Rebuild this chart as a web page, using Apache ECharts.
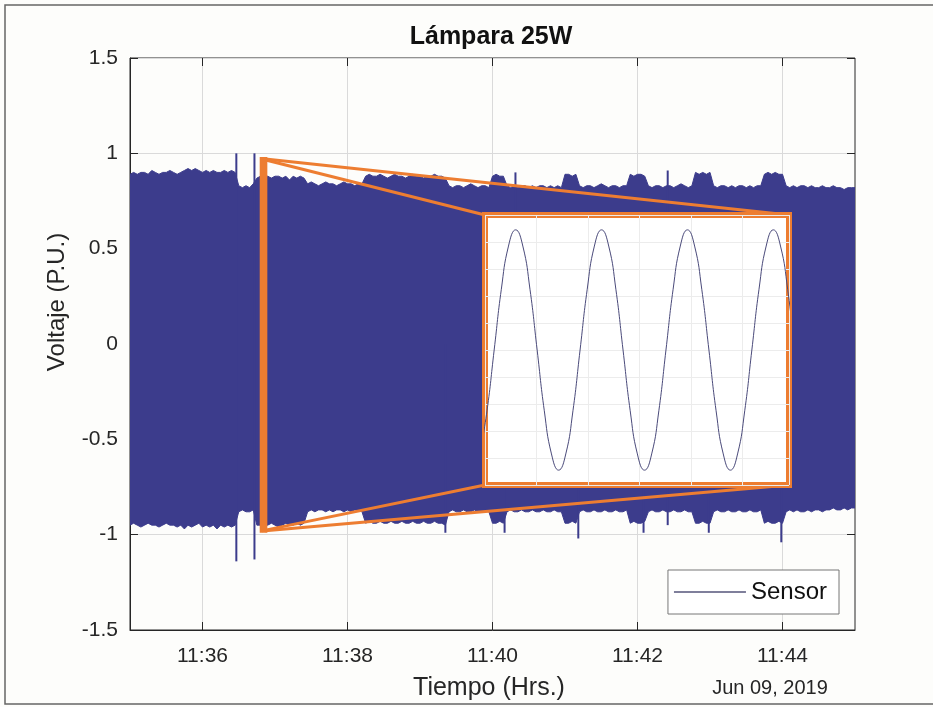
<!DOCTYPE html>
<html>
<head>
<meta charset="utf-8">
<script src="https://cdn.jsdelivr.net/npm/echarts@6/dist/echarts.min.js"></script>
<style>
html,body{margin:0;padding:0;background:#fdfdfb;}
#c{width:933px;height:707px;}
</style>
</head>
<body>
<div id="c"></div>
<script>
// ---------------- data ----------------
const chartTitle = 'Lámpara 25W';
const xName = 'Tiempo (Hrs.)';
const yName = 'Voltaje (P.U.)';
const dateLabel = 'Jun 09, 2019';
const seriesName = 'Sensor';
const startHour = 11, startMinute = 35;      // x = seconds after 11:35:00
const spanSeconds = 600;
const xTickSeconds = [60, 180, 300, 420, 540]; // 11:36 ... 11:44
const yMin = -1.5, yMax = 1.5, yStep = 0.5;
const envStep = 3; // seconds between envelope samples

// upper envelope of the recorded waveform (P.U.)
const envHi = [
  0.89,0.90,0.89,0.90,0.90,0.89,0.91,0.90,0.89,0.90,
  0.90,0.91,0.90,0.89,0.90,0.91,0.92,0.91,0.92,0.91,
  0.90,0.91,0.90,0.91,0.90,0.90,0.91,0.90,0.91,0.90,
  0.83,0.82,0.83,0.82,0.84,
  0.87,0.88,0.88,
  0.88,0.87,0.88,0.88,0.87,0.88,0.86,0.88,0.87,0.88,0.87,
  0.84,0.85,0.84,0.83,0.84,0.85,0.84,0.84,0.83,0.84,0.85,0.84,0.84,0.83,0.84,0.84,
  0.88,0.89,0.88,0.88,0.89,0.88,0.87,0.88,0.89,0.88,0.88,0.87,0.88,0.89,0.88,0.88,0.87,0.88,0.88,0.89,0.88,0.88,0.87,
  0.83,0.82,0.83,0.83,0.82,0.83,0.84,0.83,0.82,0.83,0.83,0.82,
  0.88,0.89,0.88,0.88,
  0.83,0.82,0.83,0.82,0.83,0.83,0.82,0.83,0.82,0.83,0.83,0.82,0.83,0.82,0.83,0.82,
  0.89,0.89,0.88,0.89,
  0.83,0.82,0.83,0.83,0.82,0.83,0.84,0.83,0.82,0.83,0.83,0.82,0.83,0.83,
  0.89,0.88,0.89,0.89,0.88,
  0.83,0.82,0.83,0.83,0.82,0.83,0.83,0.82,0.83,0.84,0.83,0.82,0.83,
  0.90,0.89,0.90,0.89,0.90,
  0.83,0.82,0.83,0.83,0.82,0.83,0.82,0.83,0.83,0.82,0.83,0.82,0.83,0.83,
  0.89,0.90,0.89,0.90,0.89,0.89,
  0.83,0.82,0.83,0.82,0.83,0.83,0.82,0.83,0.82,0.82,0.83,0.82,0.82,0.83,0.82,0.82,0.81,0.82,0.82,0.82
];
// lower envelope (P.U.)
const envLo = [
  -0.95,-0.94,-0.95,-0.96,-0.95,-0.94,-0.95,-0.95,-0.96,-0.95,
  -0.94,-0.95,-0.95,-0.96,-0.95,-0.97,-0.95,-0.96,-0.95,-0.94,
  -0.96,-0.95,-0.96,-0.95,-0.97,-0.95,-0.96,-0.95,-0.96,-0.95,
  -0.88,-0.87,-0.88,-0.88,-0.87,
  -0.95,-0.95,-0.95,
  -0.95,-0.94,-0.95,-0.96,-0.95,-0.94,-0.95,-0.95,-0.94,-0.95,-0.94,
  -0.88,-0.87,-0.88,-0.87,-0.87,-0.88,-0.87,-0.88,-0.87,-0.87,-0.88,-0.87,-0.88,-0.87,-0.87,-0.88,
  -0.94,-0.93,-0.94,-0.94,-0.93,-0.94,-0.94,-0.93,-0.94,-0.94,-0.93,-0.94,-0.94,-0.93,-0.94,-0.94,-0.93,-0.94,-0.94,-0.93,-0.94,-0.94,-0.95,
  -0.88,-0.87,-0.88,-0.88,-0.87,-0.88,-0.88,-0.87,-0.88,-0.88,-0.87,-0.88,
  -0.94,-0.94,-0.93,-0.94,
  -0.88,-0.87,-0.88,-0.88,-0.87,-0.88,-0.88,-0.87,-0.88,-0.88,-0.87,-0.88,-0.88,-0.87,-0.88,-0.88,
  -0.94,-0.94,-0.93,-0.94,
  -0.88,-0.87,-0.88,-0.88,-0.87,-0.88,-0.88,-0.87,-0.88,-0.88,-0.87,-0.88,-0.88,-0.87,
  -0.94,-0.93,-0.94,-0.94,-0.93,
  -0.88,-0.87,-0.88,-0.88,-0.87,-0.88,-0.88,-0.87,-0.88,-0.88,-0.87,-0.88,-0.88,
  -0.94,-0.94,-0.93,-0.94,-0.94,
  -0.88,-0.87,-0.88,-0.88,-0.87,-0.88,-0.88,-0.87,-0.88,-0.88,-0.87,-0.88,-0.88,-0.87,
  -0.94,-0.93,-0.94,-0.94,-0.93,-0.94,
  -0.88,-0.87,-0.88,-0.87,-0.88,-0.88,-0.87,-0.88,-0.87,-0.87,-0.88,-0.87,-0.87,-0.86,-0.87,-0.87,-0.86,-0.87,-0.86,-0.86
];
// isolated transients (seconds, P.U.)
const spikeHiT = [88, 103, 319, 445];
const spikeHiV = [1.00, 1.00, 0.90, 0.91];
const spikeLoT = [88, 103, 261, 310, 371, 425, 445, 479, 539];
const spikeLoV = [-1.14, -1.13, -0.99, -0.99, -1.02, -0.99, -0.95, -0.99, -1.04];

// zoomed window (seconds, P.U.)
const zoomT = [109, 112];
const zoomV = [-0.98, 0.97];

// inset: a few cycles of the waveform (ms, P.U.)
const insetT = [-1.0,0.39,1.78,3.17,4.56,5.95,7.34,8.73,10.12,11.51,12.90,14.29,
  15.68,17.07,18.45,19.84,21.23,22.62,24.01,25.40,26.79,28.18,29.57,30.96,
  32.35,33.74,35.12,36.51,37.90,39.29,40.68,42.07,43.46,44.85,46.24,47.63,
  49.02,50.41,51.79,53.18,54.57,55.96,57.35,58.74,60.13];
const insetV = [-0.77,-0.45,0,0.45,0.77,0.89,0.77,0.45,0,-0.45,-0.77,-0.89,
  -0.77,-0.45,0,0.45,0.77,0.89,0.77,0.45,0,-0.45,-0.77,-0.89,
  -0.77,-0.45,0,0.45,0.77,0.89,0.77,0.45,0,-0.45,-0.77,-0.89,
  -0.77,-0.45,0,0.45,0.77,0.89,0.77,0.45,0];
const insetSpanMs = 59;

// ---------------- styles / layout ----------------
const BLUE = '#3c3c8c';
const ORANGE = '#ed7d31';
const INK = '#262626';
const FONT = '"Liberation Sans", Arial, Helvetica, sans-serif';
const mainGrid = {left: 130, right: 78, top: 58, bottom: 77};
const insetBox = {left: 485, top: 215, width: 304, height: 270};

const pad = n => (n < 10 ? '0' : '') + n;
const clock = s => {
  const m = startHour * 60 + startMinute + Math.round(s / 60);
  return pad(Math.floor(m / 60)) + ':' + pad(m % 60);
};

const hiData = envHi.map((v, i) => [i * envStep, v]);
const loData = envLo.map((v, i) => [i * envStep, v]);
const spikeHi = spikeHiT.map((t, i) => [t, spikeHiV[i]]);
const spikeLo = spikeLoT.map((t, i) => [t, spikeLoV[i]]);
const insetData = insetT.map((t, i) => [t, insetV[i]]);

const chart = echarts.init(document.getElementById('c'), null, {renderer: 'canvas'});

const envSeries = data => ({
  name: seriesName, type: 'line', data, symbol: 'none', silent: true,
  xAxisIndex: 0, yAxisIndex: 0, z: 2,
  lineStyle: {color: BLUE, width: 1}, itemStyle: {color: BLUE},
  areaStyle: {color: BLUE, opacity: 1}
});
const spikeSeries = (name, data) => ({
  name, type: 'bar', data, barWidth: 2, barGap: '-100%', silent: true,
  xAxisIndex: 0, yAxisIndex: 0, z: 2, itemStyle: {color: BLUE}
});

const option = {
  animation: false,
  backgroundColor: '#fdfdfb',
  textStyle: {fontFamily: FONT},
  title: {
    text: chartTitle, left: 491, top: 25, padding: 0, textAlign: 'center',
    textStyle: {fontFamily: FONT, fontSize: 25, fontWeight: 'bold', color: '#111'}
  },
  legend: {
    data: [{name: seriesName, icon: 'rect'}],
    right: 94, top: 570, orient: 'horizontal',
    itemWidth: 72, itemHeight: 1.5, itemGap: 5,
    padding: [10, 12, 10, 6],
    backgroundColor: '#ffffff', borderColor: '#777', borderWidth: 1, borderRadius: 0,
    textStyle: {fontFamily: FONT, fontSize: 24, color: '#111'},
    itemStyle: {color: '#55557a'}, selectedMode: false
  },
  grid: [
    Object.assign({show: true, borderColor: INK, borderWidth: 1, backgroundColor: 'transparent', outerBoundsMode: 'none', containLabel: false}, mainGrid),
    {left: insetBox.left, top: insetBox.top, width: insetBox.width, height: insetBox.height,
     show: true, backgroundColor: '#ffffff', borderColor: ORANGE, borderWidth: 6, z: 10,
     outerBoundsMode: 'none', containLabel: false}
  ],
  xAxis: [
    {type: 'value', gridIndex: 0, min: 0, max: spanSeconds, position: 'bottom',
     axisLine: {show: true, onZero: false, lineStyle: {color: INK, width: 1}},
     axisTick: {show: true, inside: true, length: 8, customValues: xTickSeconds, lineStyle: {color: INK}},
     axisLabel: {show: true, customValues: xTickSeconds, formatter: v => clock(v), margin: 16,
                 fontFamily: FONT, fontSize: 21, color: INK},
     splitLine: {show: true, lineStyle: {color: '#dadada', width: 1}}},
    {type: 'value', gridIndex: 1, min: 0, max: insetSpanMs, interval: 10, z: 11,
     axisLine: {show: false, onZero: false}, axisTick: {show: false}, axisLabel: {show: false},
     splitLine: {show: true, lineStyle: {color: '#ececec', width: 1}}},
    {type: 'value', gridIndex: 0, min: 0, max: spanSeconds, position: 'top',
     axisLine: {show: false, onZero: false},
     axisTick: {show: true, inside: true, length: 8, customValues: xTickSeconds, lineStyle: {color: INK}},
     axisLabel: {show: false}, splitLine: {show: false}}
  ],
  yAxis: [
    {type: 'value', gridIndex: 0, min: yMin, max: yMax, interval: yStep, position: 'left',
     axisLine: {show: true, onZero: false, lineStyle: {color: INK, width: 1}},
     axisTick: {show: true, inside: true, length: 8, lineStyle: {color: INK}},
     axisLabel: {show: true, margin: 12, fontFamily: FONT, fontSize: 21, color: INK},
     splitLine: {show: true, lineStyle: {color: '#dadada', width: 1}}},
    {type: 'value', gridIndex: 1, min: -1, max: 1, interval: 0.2, z: 11,
     axisLine: {show: false, onZero: false}, axisTick: {show: false}, axisLabel: {show: false},
     splitLine: {show: true, lineStyle: {color: '#ececec', width: 1}}},
    {type: 'value', gridIndex: 0, min: yMin, max: yMax, interval: yStep, position: 'right',
     axisLine: {show: false, onZero: false},
     axisTick: {show: true, inside: true, length: 8, lineStyle: {color: INK}},
     axisLabel: {show: false}, splitLine: {show: false}}
  ],
  series: [
    envSeries(hiData),
    envSeries(loData),
    spikeSeries('spikesHi', spikeHi),
    spikeSeries('spikesLo', spikeLo),
    {name: 'inset', type: 'line', data: insetData, xAxisIndex: 1, yAxisIndex: 1,
     smooth: true, symbol: 'none', silent: true, z: 12,
     lineStyle: {color: '#4a4a7a', width: 1}}
  ]
};
chart.setOption(option);

// annotation: zoom window and connectors
const pTL = chart.convertToPixel({gridIndex: 0}, [zoomT[0], zoomV[1]]);
const pBR = chart.convertToPixel({gridIndex: 0}, [zoomT[1], zoomV[0]]);
const ix0 = insetBox.left, iy0 = insetBox.top;
const ix1 = insetBox.left + insetBox.width, iy1 = insetBox.top + insetBox.height;
const lineEl = (x1, y1, x2, y2) => ({
  type: 'line', z: 6, silent: true,
  shape: {x1, y1, x2, y2},
  style: {stroke: ORANGE, lineWidth: 3}
});
chart.setOption({
  graphic: {elements: [
    {type: 'rect', z: 0, silent: true, shape: {x: 5, y: 5, width: 940, height: 699},
     style: {fill: null, stroke: '#666', lineWidth: 1.5}},
    lineEl(pTL[0], pTL[1], ix0, iy0),
    lineEl(pBR[0], pTL[1], ix1, iy0),
    lineEl(pTL[0], pBR[1], ix0, iy1),
    lineEl(pBR[0], pBR[1], ix1, iy1),
    {type: 'rect', z: 7, silent: true,
     shape: {x: pTL[0], y: pTL[1], width: pBR[0] - pTL[0], height: pBR[1] - pTL[1]},
     style: {fill: null, stroke: ORANGE, lineWidth: 4}},
    {type: 'text', z: 20, silent: true, x: 57, y: 302, rotation: Math.PI / 2,
     style: {text: yName, fontFamily: FONT, fontSize: 24, fill: INK, align: 'center', verticalAlign: 'middle'}},
    {type: 'text', z: 20, silent: true, x: 489, y: 688,
     style: {text: xName, fontFamily: FONT, fontSize: 25, fill: INK, align: 'center', verticalAlign: 'middle'}},
    {type: 'text', z: 20, silent: true, x: 770, y: 688,
     style: {text: dateLabel, fontFamily: FONT, fontSize: 20, fill: INK, align: 'center', verticalAlign: 'middle'}}
  ]}
});
</script>
</body>
</html>
